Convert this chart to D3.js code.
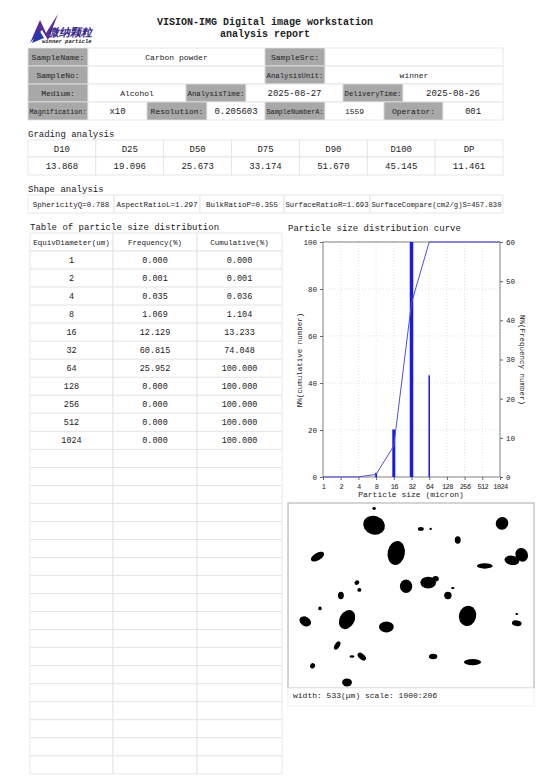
<!DOCTYPE html>
<html><head><meta charset="utf-8">
<script src="https://cdn.jsdelivr.net/npm/d3@7"></script>
<style>body{margin:0;background:#fff}svg{display:block}text{font-family:"Liberation Mono","DejaVu Sans Mono",monospace;fill:#222}</style>
</head><body><svg id="c" width="554" height="784"></svg>
<script>
const diameters=[1,2,4,8,16,32,64,128,256,512,1024];
const frequency=[0.000,0.001,0.035,1.069,12.129,60.815,25.952,0.000,0.000,0.000,0.000];
const cumulative=[0.000,0.001,0.036,1.104,13.233,74.048,100.000,100.000,100.000,100.000,100.000];
const gradingLabels=["D10","D25","D50","D75","D90","D100","DP"];
const gradingValues=["13.868","19.096","25.673","33.174","51.670","45.145","11.461"];
const shapeLabels=["SphericityQ=0.788","AspectRatioL=1.297","BulkRatioP=0.355","SurfaceRatioR=1.693","SurfaceCompare(cm2/g)S=457.830"];
const leftTicks=[0,20,40,60,80,100];
const rightTicks=[0,10,20,30,40,50,60];
// particles in image: [x, y, rx, ry, rotation] in image fraction units
const particles=[[0.35,0.12,0.045,0.05,20],[0.44,0.27,0.035,0.065,10],[0.87,0.11,0.025,0.035,30],[0.12,0.29,0.03,0.02,-30],[0.69,0.2,0.012,0.02,0],[0.95,0.28,0.025,0.038,-30],[0.8,0.34,0.032,0.015,0],[0.91,0.31,0.03,0.025,10],[0.48,0.45,0.025,0.037,0],[0.57,0.43,0.032,0.032,0],[0.6,0.41,0.013,0.015,0],[0.65,0.5,0.015,0.02,0],[0.215,0.5,0.012,0.02,0],[0.28,0.43,0.01,0.012,-30],[0.29,0.47,0.008,0.01,0],[0.54,0.14,0.012,0.01,0],[0.73,0.61,0.035,0.055,15],[0.24,0.63,0.03,0.055,30],[0.07,0.64,0.025,0.025,30],[0.4,0.67,0.03,0.03,0],[0.93,0.65,0.02,0.015,10],[0.2,0.77,0.01,0.025,30],[0.3,0.83,0.02,0.015,40],[0.26,0.83,0.01,0.007,0],[0.59,0.83,0.017,0.015,0],[0.75,0.86,0.035,0.017,0],[0.1,0.88,0.01,0.015,30],[0.24,0.97,0.02,0.022,0],[0.35,0.03,0.007,0.008,0],[0.58,0.14,0.005,0.006,0],[0.67,0.46,0.007,0.006,0],[0.13,0.57,0.007,0.01,0],[0.93,0.6,0.006,0.005,0]];

const svg=d3.select("#c");
const F="Liberation Mono, DejaVu Sans Mono, monospace";
function fit(t,w){const n=t.node();if(n.getComputedTextLength()>w)t.attr("textLength",w).attr("lengthAdjust","spacingAndGlyphs");}
function cell(x,y,w,h,txt,label,fs){
  svg.append("rect").attr("x",x).attr("y",y).attr("width",w).attr("height",h)
    .attr("fill",label?"#a8a8a8":"#fff").attr("stroke","#e2e2e2").attr("stroke-width",0.8);
  if(txt!==undefined&&txt!==""){const t=svg.append("text").attr("x",x+w/2).attr("y",y+h/2+3).attr("text-anchor","middle")
    .attr("font-size",fs||8).text(txt);fit(t,w-3);}
}
// logo
const lg=svg.append("g");
lg.append("path").attr("d","M30,43 L40,20 L46,33 L58,14 L48,40 L42,30 Z").attr("fill","#5a2a9a");
lg.append("path").attr("d","M32,43 L38,28 L44,38 Z").attr("fill","#2a3aa8");
lg.append("text").attr("x",48).attr("y",36).attr("font-size",11).attr("font-weight","bold").attr("font-family","Noto Sans CJK SC").style("fill","#3b2a8a").attr("font-style","italic").text("微纳颗粒");
lg.append("text").attr("x",42).attr("y",43).attr("font-size",5.5).attr("font-style","italic").attr("font-weight","bold").attr("font-family","Liberation Sans").text("winner particle");
svg.append("text").attr("x",265).attr("y",25).attr("text-anchor","middle").attr("font-size",10).attr("font-weight","bold").text("VISION-IMG Digital image workstation");
svg.append("text").attr("x",265).attr("y",37).attr("text-anchor","middle").attr("font-size",10).attr("font-weight","bold").text("analysis report");
// info table
const R=[48,66,84,102];const H=18;
cell(28,R[0],60,H,"SampleName:",1);cell(88,R[0],177,H,"Carbon powder");cell(265,R[0],60,H,"SampleSrc:",1);cell(325,R[0],178,H,"");
cell(28,R[1],60,H,"SampleNo:",1);cell(88,R[1],177,H,"");cell(265,R[1],60,H,"AnalysisUnit:",1);cell(325,R[1],178,H,"winner");
cell(28,R[2],60,H,"Medium:",1);cell(88,R[2],98,H,"Alcohol");cell(186,R[2],60,H,"AnalysisTime:",1);cell(246,R[2],97,H,"2025-08-27",0,9);cell(343,R[2],60,H,"DeliveryTime:",1);cell(403,R[2],100,H,"2025-08-26",0,9);
cell(28,R[3],60,H,"Magnification:",1);cell(88,R[3],59,H,"x10",0,9);cell(147,R[3],60,H,"Resolution:",1);cell(207,R[3],58,H,"0.205603",0,9);cell(265,R[3],60,H,"SampleNumberA:",1);cell(325,R[3],59,H,"1559");cell(384,R[3],59,H,"Operator:",1);cell(443,R[3],60,H,"001",0,9);
// grading
svg.append("text").attr("x",28).attr("y",137).attr("font-size",9).text("Grading analysis");
const gw=(503-28)/7;
gradingLabels.forEach((l,i)=>{cell(28+i*gw,140,gw,17,l,0,9);cell(28+i*gw,157,gw,18,gradingValues[i],0,9);});
svg.append("text").attr("x",28).attr("y",192).attr("font-size",9).text("Shape analysis");
const sx=[28,114,200,284,370,503];
shapeLabels.forEach((l,i)=>cell(sx[i],195,sx[i+1]-sx[i],18,l,0,7.5));
// distribution table
svg.append("text").attr("x",30).attr("y",230).attr("font-size",9).text("Table of particle size distribution");
const cx=[30,113,197,282];
const hdr=["EquivDiameter(um)","Frequency(%)","Cumulative(%)"];
for(let r=0;r<30;r++){
  for(let c=0;c<3;c++){
    let t="";
    if(r===0)t=hdr[c];else if(r<=diameters.length){const i=r-1;t=c===0?String(diameters[i]):c===1?frequency[i].toFixed(3):cumulative[i].toFixed(3);}
    cell(cx[c],233+r*18.03,cx[c+1]-cx[c],18.03,t,0,r===0?7.5:8.5);
  }
}
// chart
svg.append("text").attr("x",288).attr("y",231).attr("font-size",9).text("Particle size distribution curve");
const x=d3.scaleLog().base(2).domain([1,1024]).range([323,500]);
const yL=d3.scaleLinear().domain([0,100]).range([477,242]);
const yR=d3.scaleLinear().domain([0,60]).range([477,242]);
const g=svg.append("g");
g.selectAll(".vg").data(diameters).join("line").attr("x1",d=>x(d)).attr("x2",d=>x(d)).attr("y1",242).attr("y2",477).attr("stroke","#ccc").attr("stroke-dasharray","1,2").attr("stroke-width",0.6);
g.selectAll(".hg").data(leftTicks).join("line").attr("x1",323).attr("x2",500).attr("y1",d=>yL(d)).attr("y2",d=>yL(d)).attr("stroke","#ccc").attr("stroke-dasharray","1,2").attr("stroke-width",0.6);
g.append("rect").attr("x",323).attr("y",242).attr("width",177).attr("height",235).attr("fill","none").attr("stroke","#666").attr("stroke-width",0.8);
const ax=svg.append("g").attr("transform","translate(0,477)").call(d3.axisBottom(x).tickValues(diameters).tickFormat(d3.format("d")).tickSize(3));
const al=svg.append("g").attr("transform","translate(323,0)").call(d3.axisLeft(yL).tickValues(leftTicks).tickSize(3));
const ar=svg.append("g").attr("transform","translate(500,0)").call(d3.axisRight(yR).tickValues(rightTicks).tickSize(3));
[ax,al,ar].forEach(a=>{a.select(".domain").remove();a.selectAll("text").attr("font-family",F).attr("font-size",7.5).attr("fill","#222");a.selectAll("line").attr("stroke","#666");});
ax.selectAll("text").attr("dy","0.9em").attr("font-size",7).attr("letter-spacing",-0.6);
const wid=[1,1,1,2,3,3.5,1.5,1,1,1,1];
svg.selectAll(".bar").data(diameters.map((d,i)=>({d,f:Math.min(frequency[i],60),w:wid[i]}))).join("rect")
  .attr("x",d=>x(d.d)-d.w/2).attr("width",d=>d.w).attr("y",d=>yR(d.f)).attr("height",d=>477-yR(d.f)).attr("fill","#1a1ae6");
svg.append("path").datum(diameters.map((d,i)=>[d,cumulative[i]])).attr("d",d3.line().x(d=>x(d[0])).y(d=>yL(d[1])))
  .attr("fill","none").attr("stroke","#5050d8").attr("stroke-width",1);
svg.append("text").attr("x",411).attr("y",497).attr("text-anchor","middle").attr("font-size",8).text("Particle size (micron)");
svg.append("text").attr("transform","translate(302,360) rotate(-90)").attr("text-anchor","middle").attr("font-size",7.5).text("N%(cumulative number)");
svg.append("text").attr("transform","translate(520,360) rotate(90)").attr("text-anchor","middle").attr("font-size",7.5).text("N%(Frequency number)");
// image
svg.append("rect").attr("x",288).attr("y",503).attr("width",246).attr("height",185).attr("fill","#fff").attr("stroke","#aaa");
svg.append("rect").attr("x",288).attr("y",688).attr("width",246).attr("height",18).attr("fill","#fff").attr("stroke","#eee");
const px=d3.scaleLinear().domain([0,1]).range([288,534]),py=d3.scaleLinear().domain([0,1]).range([503,688]);
svg.selectAll(".p").data(particles).join("ellipse").attr("cx",0).attr("cy",0).attr("rx",d=>d[2]*246).attr("ry",d=>d[3]*185)
  .attr("transform",d=>`translate(${px(d[0])},${py(d[1])}) rotate(${d[4]})`).attr("fill","#000");
svg.append("text").attr("x",293).attr("y",698).attr("font-size",8).text("width:  533(μm) scale: 1000:206");
</script></body></html>
